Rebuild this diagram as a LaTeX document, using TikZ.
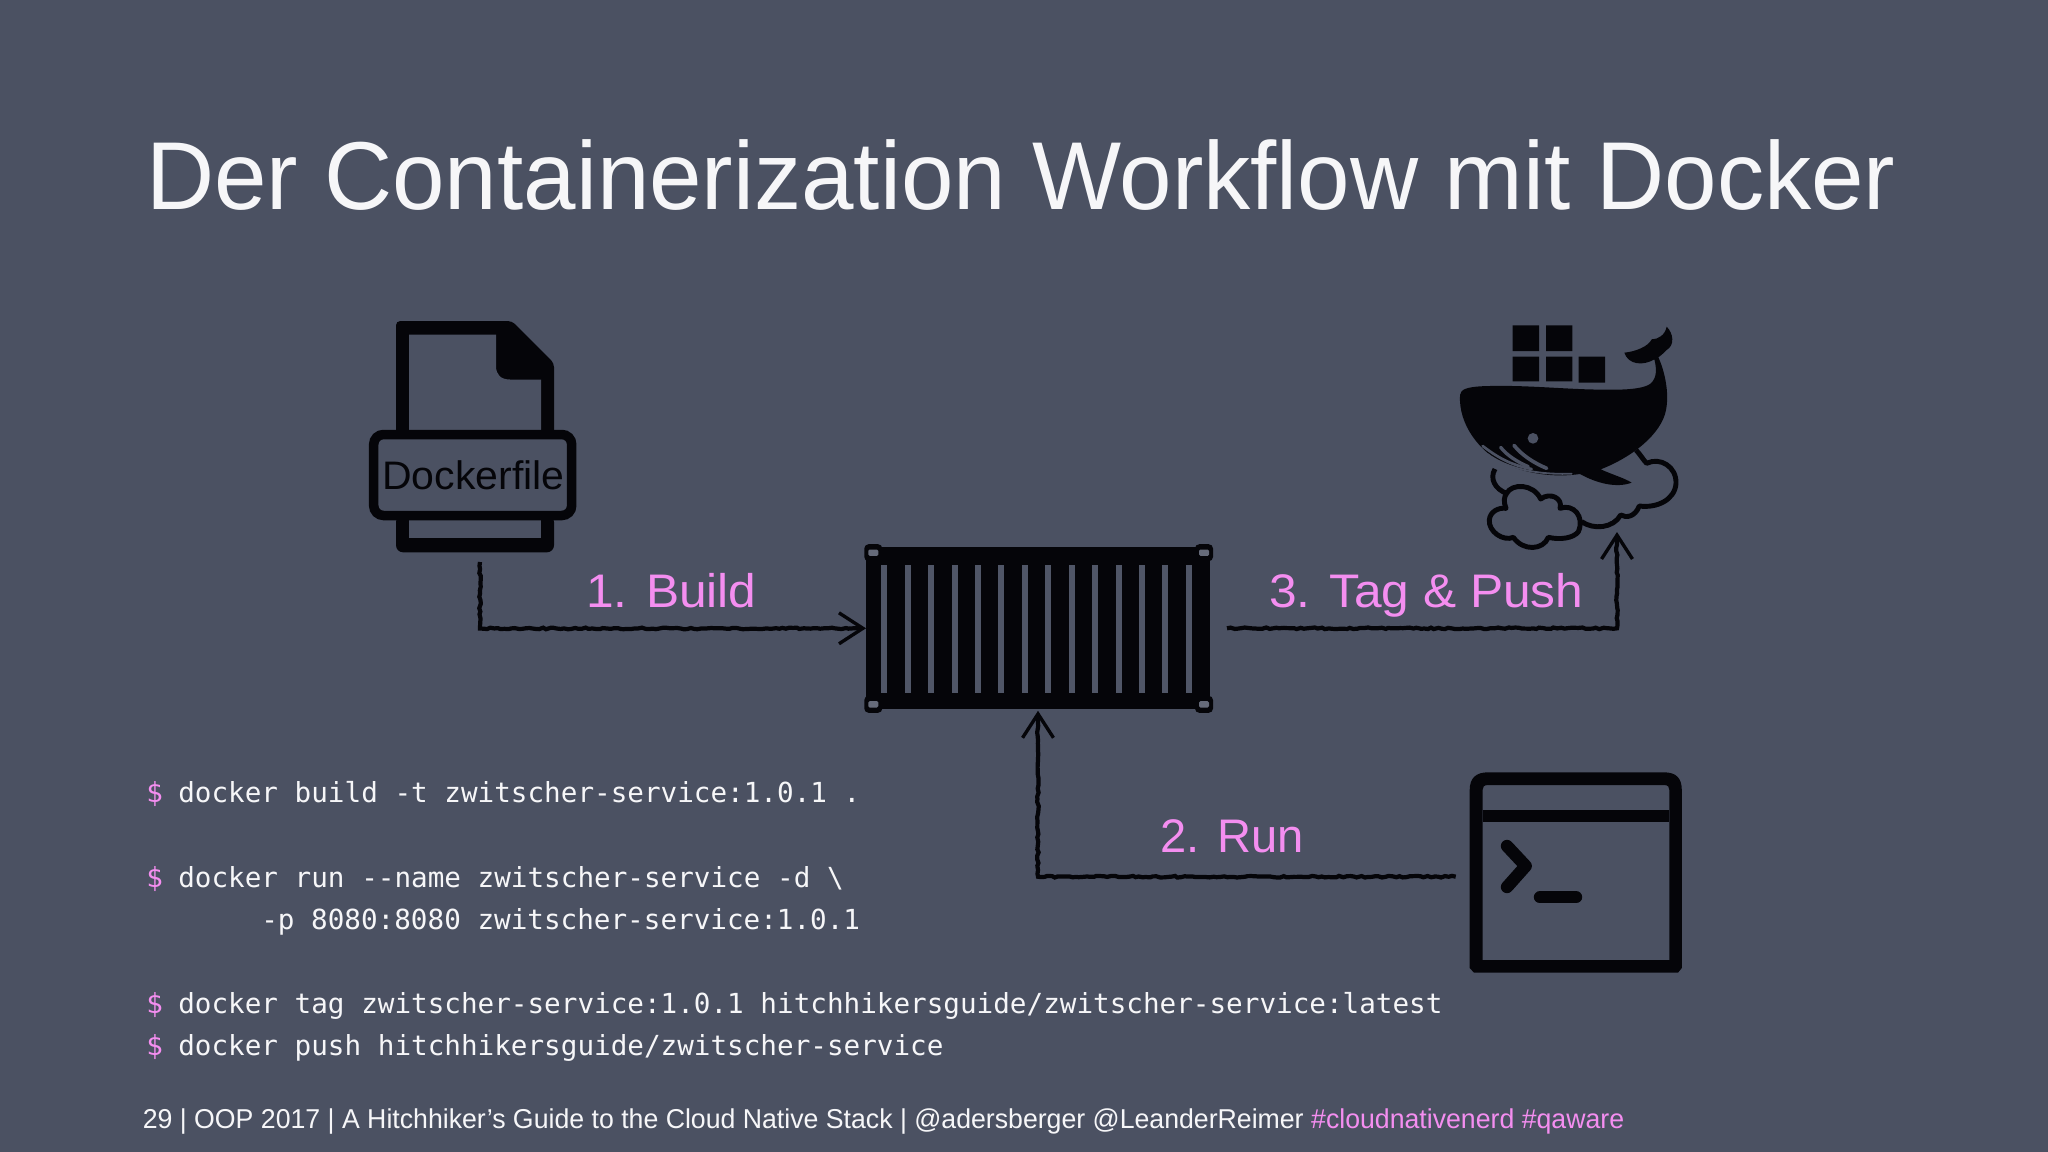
\documentclass[tikz,border=0pt]{standalone}
\usepackage{fontspec}
\setmainfont{Liberation Sans}
\newfontfamily\codefont{DejaVu Sans Mono}
\newfontfamily\titlefont[FakeStretch=0.978]{Liberation Sans}
\newfontfamily\widefont[FakeStretch=1.055]{Liberation Sans}
\newfontfamily\bandfont[FakeStretch=1.03]{Liberation Sans}
\usetikzlibrary{arrows.meta,decorations.pathmorphing,calc}
\definecolor{slidebg}{HTML}{4B5162}
\definecolor{ink}{HTML}{050509}
\definecolor{accent}{HTML}{F48EF0}
\definecolor{paper}{HTML}{F6F6F8}
\newcommand{\pxu}{0.025cm}
\newcommand{\psign}{\textcolor{accent}{\$}}
\tikzset{
  pxlw/.style={line width=#1*\pxu},
  slabel/.style={text=accent,anchor=base west,inner sep=0pt,font=\fontsize{33.5}{40}\selectfont},
  widelabel/.style={text=accent,anchor=base west,inner sep=0pt,font=\widefont\fontsize{33.5}{40}\selectfont},
  codeline/.style={text=paper,anchor=base west,inner sep=0pt,font=\codefont\fontsize{19.65}{24}\selectfont},
  promptsign/.style={text=accent,anchor=base west,inner sep=0pt,font=\codefont\fontsize{19.65}{24}\selectfont},
  iconbox/.style={inner sep=0pt,outer sep=0pt},
  conn/.style={draw=ink,line width=3pt,line join=miter,
    decorate,decoration={random steps,segment length=2.5pt,amplitude=0.6pt,post=lineto,post length=9pt},
    -{Straight Barb[length=17pt,width=22pt,line width=2.4pt]}},
}
\begin{document}
\begin{tikzpicture}[x=\pxu,y=-\pxu]
\pgfmathsetseed{42}
\useasboundingbox (0,0) rectangle (2048,1152);
\fill[slidebg] (0,0) rectangle (2048,1152);

% title
\node[anchor=base west,inner sep=0pt,text=paper,font=\titlefont\fontsize{68.6}{80}\selectfont] (title) at (146,209) {Der Containerization Workflow mit Docker};

% Dockerfile icon
\fill[ink,even odd rule,rounded corners=3pt]
  (396,520) -- (396,321) -- (512,321) -- (554,363) -- (554,520) -- cycle;
\fill[slidebg,rounded corners=0pt] (409,334.5) -- (496,334.5) -- (496,366)
   .. controls (496,375) and (501,379.5) .. (510,379.5) -- (541,379.5) -- (541,432) -- (409,432) -- cycle;
\fill[ink,rounded corners=5pt] (396,515) rectangle (554,552.3);
\fill[slidebg] (409,515) rectangle (541,538.3);
\node[iconbox,draw=ink,pxlw=9.5,rounded corners=7pt,fill=slidebg,minimum width=198*\pxu,minimum height=81*\pxu,text=ink] (dockerband) at (472.7,475) {};
\node[anchor=base,inner sep=0pt,text=ink,font=\bandfont\fontsize{28.3}{34}\selectfont] (dockerlabel) at (473.5,489.3) {Dockerfile};
\node[iconbox,minimum width=158*\pxu,minimum height=232*\pxu,outer ysep=9.5*\pxu] (dockerfile) at (480,436.5) {};

% container
\node[iconbox,fill=ink,minimum width=344*\pxu,minimum height=162*\pxu] (container) at (1038,628.3) {};
\foreach \i in {0,...,13}{
  \fill[slidebg!97!white] ({881.3+23.43*\i},565) rectangle ({887.3+23.43*\i},692.7);
}
\foreach \cx/\cy in {873.3/552.7,1204/552.7,873.3/704.3,1204/704.3}{
  \fill[ink,rounded corners=3pt] (\cx-9,\cy-8.5) rectangle (\cx+9,\cy+8.5);
  \fill[slidebg!85!white,rounded corners=1pt] (\cx-5,\cy-3.2) rectangle (\cx+5,\cy+3.2);
}

% whale
\begin{scope}[xshift=1400*\pxu,yshift=-300*\pxu,x=\pxu/3,y=-\pxu/3]
  \fill[ink] (338,76) rectangle (417,153) (438,76) rectangle (517,153)
             (338,170) rectangle (417,244) (438,170) rectangle (517,244) (536,170) rectangle (615,248);
  \fill[ink] (180,285) .. controls (182,268) and (200,262) .. (240,259)
    .. controls (350,254) and (450,264) .. (560,268)
    .. controls (640,270) and (720,272) .. (750,252)
    .. controls (772,235) and (770,205) .. (763,178)
    .. controls (730,198) and (685,195) .. (673,158)
    .. controls (705,155) and (745,140) .. (755,118)
    .. controls (775,118) and (795,105) .. (800,80)
    .. controls (820,100) and (825,135) .. (800,150)
    .. controls (795,155) and (785,165) .. (775,172)
    .. controls (795,215) and (808,280) .. (798,330)
    .. controls (785,400) and (700,470) .. (602,508)
    .. controls (640,525) and (675,535) .. (695,548)
    .. controls (650,565) and (590,550) .. (540,522)
    .. controls (470,532) and (390,525) .. (310,490)
    .. controls (240,455) and (175,375) .. (180,285) -- cycle;
  \fill[slidebg] (399,415) circle[radius=16];
  \draw[slidebg,line width=1.9pt,line cap=round] (248,438) .. controls (290,470) and (330,495) .. (395,507);
  \draw[slidebg,line width=2.4pt,line cap=round] (302,442) .. controls (320,465) and (350,485) .. (385,500);
  \draw[slidebg,line width=2.6pt,line cap=round] (342,436) .. controls (365,465) and (400,488) .. (440,505);
  \draw[slidebg,line width=1.3pt,line cap=round] (262,462) .. controls (320,505) and (410,525) .. (515,521);
  % cloud
  \draw[ink,line width=3.5pt,line join=round]
    (285,507) .. controls (268,535) and (285,568) .. (320,580)
    .. controls (335,550) and (400,550) .. (422,597)
    .. controls (450,575) and (490,595) .. (480,625)
    .. controls (520,610) and (555,650) .. (535,695)
    .. controls (520,715) and (480,720) .. (445,712)
    .. controls (430,750) and (370,755) .. (340,712)
    .. controls (310,725) and (265,695) .. (268,660)
    .. controls (270,635) and (295,622) .. (318,625)
    .. controls (310,605) and (312,590) .. (320,580);
  \draw[ink,line width=3.5pt,line join=round]
    (545,665) .. controls (580,690) and (640,685) .. (662,645)
    .. controls (680,655) and (705,650) .. (718,618)
    .. controls (770,625) and (825,600) .. (828,550)
    .. controls (830,500) and (780,470) .. (740,490)
    .. controls (730,480) and (722,465) .. (708,450);
\end{scope}
\node[iconbox,minimum width=230*\pxu,minimum height=200*\pxu] (whale) at (1616,432) {};

% terminal
\node[iconbox,draw=none,minimum width=212*\pxu,minimum height=200.4*\pxu,outer xsep=14*\pxu] (terminal) at (1575.7,872.5) {};
\fill[ink,even odd rule]
  (1469.7,790) .. controls (1469.7,778) and (1476,772.3) .. (1488,772.3) -- (1664,772.3)
  .. controls (1676,772.3) and (1681.8,778) .. (1681.8,790) -- (1681.8,968) -- (1678,972.7) -- (1474,972.7) -- (1469.7,968) -- cycle
  (1482.5,790) .. controls (1482.5,787) and (1484,785) .. (1488,785) -- (1664,785)
  .. controls (1668,785) and (1669.4,787) .. (1669.4,790) -- (1669.4,960) -- (1482.5,960) -- cycle;
\fill[ink] (1482.5,810) rectangle (1669.4,822.3);
\draw[ink,line width=8.8pt,line cap=round,line join=round] (1507,846) -- (1525.7,866) -- (1507,887);
\draw[ink,line width=8.8pt,line cap=round] (1540,897.3) -- (1576,897.3);

% connectors
\draw[conn] ($(dockerfile.south)$) -- ++(0,66.5) -- (container.west);
\draw[conn] (terminal.west |- 0,876.7) -- (1038,876.7) -- ($(container.south)+(0,1.5)$);
\draw[conn] ($(container.east)+(17,0)$) -- (1617,628.3) -- ($(whale.south)+(1,0)$);

% labels
\node[widelabel] (lbuild) at (586,607) {1. Build};
\node[slabel] (lrun) at (1160,852) {2. Run};
\node[widelabel] (lpush) at (1269,607) {3. Tag \& Push};

% code
\node[promptsign] (p1) at (146,802.5) {\$};
\node[codeline] (c1) at (178,802.5) {docker build -t zwitscher-service:1.0.1 .};
\node[promptsign] (p2) at (146,887) {\$};
\node[codeline] (c2) at (178,887) {docker run -{}-name zwitscher-service -d \textbackslash};
\node[codeline] (c3) at (261,929) {-p 8080:8080 zwitscher-service:1.0.1};
\node[promptsign] (p3) at (146,1013) {\$};
\node[codeline] (c4) at (178,1013) {docker tag zwitscher-service:1.0.1 hitchhikersguide/zwitscher-service:latest};
\node[promptsign] (p4) at (146,1055) {\$};
\node[codeline] (c5) at (178,1055) {docker push hitchhikersguide/zwitscher-service};

% footer
\node[anchor=base west,inner sep=0pt,text=paper,font=\titlefont\fontsize{19.4}{24}\selectfont] (footer) at (142.5,1128.5) {29 | OOP 2017 | A Hitchhiker’s Guide to the Cloud Native Stack | @adersberger @LeanderReimer \textcolor{accent}{\#cloudnativenerd \#qaware}};
\end{tikzpicture}
\end{document}
